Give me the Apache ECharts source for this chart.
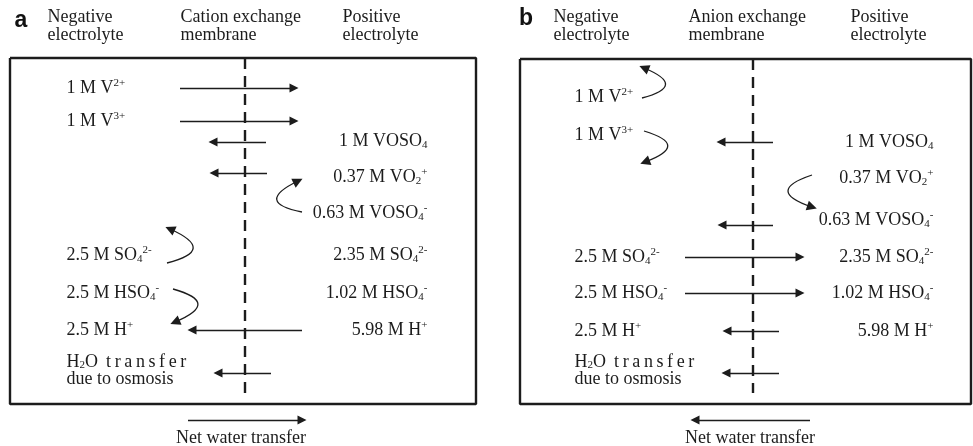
<!DOCTYPE html>
<html><head><meta charset="utf-8">
<script src="https://cdn.jsdelivr.net/npm/echarts@6/dist/echarts.min.js"></script>
<style>html,body{margin:0;padding:0;background:#fff}#c{width:973px;height:446px}</style>
</head><body><div id="c"></div>
<script>
// ---------- content (text) ----------
const panelTags = ['a', 'b'];
const headerTextsA = ['Negative\nelectrolyte', 'Cation exchange\nmembrane', 'Positive\nelectrolyte'];
const headerTextsB = ['Negative\nelectrolyte', 'Anion exchange\nmembrane', 'Positive\nelectrolyte'];
const negativeSpecies = ['1 M V{sup|2+}', '1 M V{sup|3+}', '2.5 M SO{sub|4}{sup|2-}', '2.5 M HSO{sub|4}{sup|-}', '2.5 M H{sup|+}', 'H{sub|2}O\u2009 t\u2009r\u2009a\u2009n\u2009s\u2009f\u2009e\u2009r\ndue to osmosis'];
const positiveSpecies = ['1 M VOSO{sub|4}', '0.37 M VO{sub|2}{sup|+}', '0.63 M VOSO{sub|4}{sup|-}', '2.35 M SO{sub|4}{sup|2-}', '1.02 M HSO{sub|4}{sup|-}', '5.98 M H{sup|+}'];
const netWaterLabel = 'Net water transfer';

// ---------- diagram coordinates (in canvas units) ----------
const negRowYA = [88, 121, 255, 293, 330, 371];
const negRowYB = [97, 135, 257, 293, 331, 371];
const posRowYA = [141, 177, 213, 255, 293, 330];
const posRowYB = [142, 178, 220, 257, 293, 331];
// straight fluxes: [fromX, toX, y]
const fluxA = [[180, 294, 88], [180, 294, 121], [266, 213, 142], [267, 214, 173], [302, 192, 330], [271, 218, 373]];
const fluxB = [[773, 721, 142], [773, 722, 225], [685, 800, 257], [685, 800, 293], [779, 727, 331], [779, 726, 373]];
const netWaterA = [188, 302, 420];
const netWaterB = [810, 695, 420];
// conversions (curved arrows): [x1, y1, x2, y2, curveness]
const reactionsA = [[302, 212, 298, 181, 1.5], [167, 263, 170, 229, -1.45], [173, 289, 175, 322, 1.45]];
const reactionsB = [[642, 98, 644, 68, -1.5], [644, 131, 645, 162, 1.5], [812, 175, 812, 207, -1.5]];

// ---------- layout constants ----------
const W = 973, H = 446;
const boxA = [10, 58, 476, 404], boxB = [520, 59, 971, 404];
const membraneA = [245, 58, 393], membraneB = [753, 59, 393];
const headerXA = [47, 180, 342], headerXB = [553, 688, 850], headerY = 26;
const negXA = 66, negXB = 574, posXA = 428, posXB = 934;
const tagPos = [[21, 21], [526, 19]];
const netLabelPos = [[241, 438], [750, 438]];

const SERIF = '"Liberation Serif","Times New Roman",serif';
const INK = '#1c1c1c';
const rich = {
  sup: { fontSize: 11, lineHeight: 11, verticalAlign: 'top', fontFamily: SERIF, color: INK },
  sub: { fontSize: 11, lineHeight: 11, verticalAlign: 'bottom', fontFamily: SERIF, color: INK }
};

function txt(x, y, s, pos, extra) {
  return { value: [x, y], name: s, label: Object.assign({ position: pos }, extra || {}) };
}
const texts = [];
headerTextsA.forEach((s, i) => texts.push(txt(headerXA[i], headerY, s, 'right', { lineHeight: 18 })));
headerTextsB.forEach((s, i) => texts.push(txt(headerXB[i], headerY, s, 'right', { lineHeight: 18 })));
negativeSpecies.forEach((s, i) => {
  const ex = i === negativeSpecies.length - 1 ? { lineHeight: 17 } : {};
  texts.push(txt(negXA, negRowYA[i], s, 'right', ex));
  texts.push(txt(negXB, negRowYB[i], s, 'right', ex));
});
positiveSpecies.forEach((s, i) => {
  texts.push(txt(posXA, posRowYA[i], s, 'left'));
  texts.push(txt(posXB, posRowYB[i], s, 'left'));
});
netLabelPos.forEach(p => texts.push(txt(p[0], p[1], netWaterLabel, 'inside')));
const tags = panelTags.map((t, i) => txt(tagPos[i][0], tagPos[i][1], t, 'inside'));

const straight = fluxA.concat(fluxB, [netWaterA, netWaterB]).map(f => ({ coords: [[f[0], f[2]], [f[1], f[2]]] }));
const curved = reactionsA.concat(reactionsB).map(r => ({ coords: [[r[0], r[1]], [r[2], r[3]]], lineStyle: { curveness: r[4] } }));

function rect(b) { return [[b[0], b[1]], [b[2], b[1]], [b[2], b[3]], [b[0], b[3]], [b[0], b[1]]]; }
function vline(m) { return [[m[0], m[1]], [m[0], m[2]]]; }

const chart = echarts.init(document.getElementById('c'));
chart.setOption({
  animation: false,
  backgroundColor: '#fff',
  grid: { left: 0, right: 0, top: 0, bottom: 0 },
  xAxis: { type: 'value', min: 0, max: W, show: false },
  yAxis: { type: 'value', min: 0, max: H, inverse: true, show: false },
  series: [
    { type: 'line', data: rect(boxA), symbol: 'none', silent: true, lineStyle: { color: INK, width: 2.4 } },
    { type: 'line', data: rect(boxB), symbol: 'none', silent: true, lineStyle: { color: INK, width: 2.4 } },
    { type: 'line', data: vline(membraneA), symbol: 'none', silent: true, lineStyle: { color: INK, width: 2.4, type: [11, 7] } },
    { type: 'line', data: vline(membraneB), symbol: 'none', silent: true, lineStyle: { color: INK, width: 2.4, type: [11, 7] } },
    { type: 'lines', coordinateSystem: 'cartesian2d', silent: true, symbol: ['none', 'triangle'], symbolSize: 9,
      lineStyle: { color: INK, width: 1.3, opacity: 1 }, data: straight },
    { type: 'lines', coordinateSystem: 'cartesian2d', silent: true, symbol: ['none', 'triangle'], symbolSize: 10,
      lineStyle: { color: INK, width: 1.3, opacity: 1 }, data: curved },
    { type: 'scatter', silent: true, symbolSize: 1, itemStyle: { color: 'rgba(255,255,255,0)' },
      label: { show: true, formatter: p => p.name, fontFamily: SERIF, fontSize: 18, lineHeight: 20, color: INK, opacity: 1, distance: 0, rich: rich },
      data: texts },
    { type: 'scatter', silent: true, symbolSize: 1, itemStyle: { color: 'rgba(255,255,255,0)' },
      label: { show: true, formatter: p => p.name, fontFamily: '"Liberation Sans",Arial,sans-serif', fontWeight: 'bold', fontSize: 23, color: '#111', opacity: 1 },
      data: tags }
  ]
});
</script></body></html>
